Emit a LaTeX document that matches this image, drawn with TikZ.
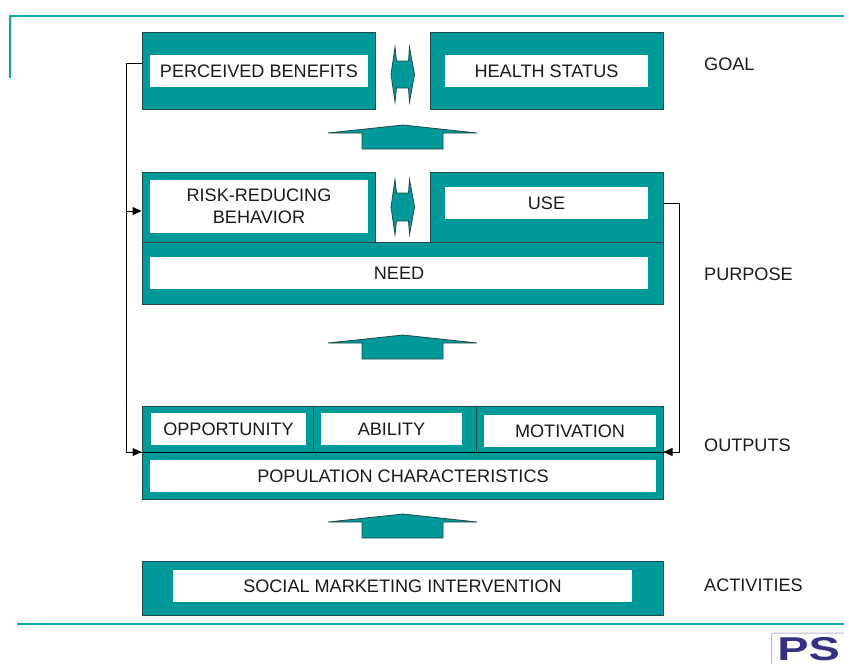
\documentclass[tikz,border=0pt]{standalone}
\usepackage{fontspec}
\usepackage{tikz}
\usepackage{color}
\usetikzlibrary{arrows.meta}
\setmainfont{Liberation Sans}
\definecolor{boxteal}{HTML}{009999}
\definecolor{ruleteal}{HTML}{14A8A4}
\definecolor{edgegray}{HTML}{24494B}
\definecolor{inktext}{HTML}{1A1A1A}
\definecolor{logoblue}{HTML}{35307F}
\definecolor{logoframe}{HTML}{B9B9D0}
\begin{document}
\begin{tikzpicture}[x=1pt,y=1pt]
\tikzstyle{every node}+=[inner sep=0pt]
\tikzstyle{tealbox}=[draw=edgegray,fill=boxteal,line width=1pt]
\tikzstyle{whitebox}=[fill=white,text=inktext,align=center,font=\fontsize{18.1}{22}\selectfont]
\tikzstyle{sidelabel}=[anchor=west,text=inktext,font=\fontsize{18.1}{22}\selectfont]
\tikzstyle{tealshape}=[draw=edgegray,fill=boxteal,line width=0.8pt,line join=miter]
\tikzstyle{wire}=[draw=black,line width=1pt]
\tikzstyle{wirehead}=[wire,-{Triangle[length=9pt,width=8pt]}]
\useasboundingbox (0,0) rectangle (844,-664);
\draw [ruleteal,line width=2pt] (10,-78) -- (10,-16) -- (844,-16);
\draw [ruleteal,line width=2pt] (17,-623.5) -- (844,-623.5);
\draw (258.75,-70.5) node [tealbox,minimum width=233.5pt,minimum height=77pt] (benefitsteal) {};
\draw (259,-71) node [whitebox,minimum width=218pt,minimum height=32pt] (benefits) {PERCEIVED BENEFITS};
\draw (546.5,-70.5) node [tealbox,minimum width=233pt,minimum height=77pt] (healthteal) {};
\draw (546.5,-71) node [whitebox,minimum width=203pt,minimum height=32pt] (health) {HEALTH STATUS};
\draw (258.75,-207) node [tealbox,minimum width=233.5pt,minimum height=70pt] (riskteal) {};
\draw (259,-206.5) node [whitebox,minimum width=218pt,minimum height=53pt] (risk) {RISK-REDUCING\\BEHAVIOR};
\draw (546.5,-207) node [tealbox,minimum width=233pt,minimum height=70pt] (useteal) {};
\draw (546.5,-203) node [whitebox,minimum width=203pt,minimum height=32pt] (use) {USE};
\draw (402.5,-273) node [tealbox,minimum width=521pt,minimum height=62pt] (needteal) {};
\draw (399,-273) node [whitebox,minimum width=498pt,minimum height=32pt] (need) {NEED};
\draw (227.5,-429.5) node [tealbox,minimum width=171pt,minimum height=47pt] (opportunityteal) {};
\draw (228.5,-429) node [whitebox,minimum width=155pt,minimum height=32pt] (opportunity) {OPPORTUNITY};
\draw (394.5,-429.5) node [tealbox,minimum width=163pt,minimum height=47pt] (abilityteal) {};
\draw (391.5,-429) node [whitebox,minimum width=141pt,minimum height=32pt] (ability) {ABILITY};
\draw (569.5,-429.5) node [tealbox,minimum width=187pt,minimum height=47pt] (motivationteal) {};
\draw (570,-431) node [whitebox,minimum width=172pt,minimum height=32pt] (motivation) {MOTIVATION};
\draw (402.5,-476) node [tealbox,minimum width=521pt,minimum height=47pt] (populationteal) {};
\draw (403,-476) node [whitebox,minimum width=506pt,minimum height=32pt] (population) {POPULATION CHARACTERISTICS};
\draw (402.5,-588) node [tealbox,minimum width=521pt,minimum height=54pt] (socialteal) {};
\draw (402.5,-586) node [whitebox,minimum width=459pt,minimum height=32pt] (social) {SOCIAL MARKETING INTERVENTION};
\draw (704,-64) node [sidelabel] (goal) {GOAL};
\draw (704,-274) node [sidelabel] (purpose) {PURPOSE};
\draw (704,-445) node [sidelabel] (outputs) {OUTPUTS};
\draw (704,-585) node [sidelabel] (activities) {ACTIVITIES};
\draw [tealshape] (328,-133) -- (403,-125) -- (477,-133) -- (443,-133) -- (443,-149) -- (362,-149) -- (362,-133) -- cycle;
\draw [tealshape] (328,-343) -- (403,-335) -- (477,-343) -- (443,-343) -- (443,-359) -- (362,-359) -- (362,-343) -- cycle;
\draw [tealshape] (328,-522) -- (403,-514) -- (477,-522) -- (443,-522) -- (443,-538) -- (362,-538) -- (362,-522) -- cycle;
\draw [tealshape] (395,-47) -- (396.5,-61) -- (408.5,-61) -- (409.5,-47) -- (414.5,-74.5) -- (409.5,-102) -- (408.5,-88) -- (396.5,-88) -- (395,-102) -- (391,-74.5) -- cycle;
\draw [tealshape] (395,-179.5) -- (396.5,-193) -- (408.5,-193) -- (409.5,-179.5) -- (414.5,-207) -- (409.5,-234.5) -- (408.5,-221) -- (396.5,-221) -- (395,-234.5) -- (391,-207) -- cycle;
\coordinate (leftbus) at (126,-63);
\coordinate (riskjoin) at (126,-211);
\coordinate (rightbus) at (679,-203);
\draw [wire] (benefitsteal.west |- leftbus) -- (leftbus) |- (populationteal.north west);
\draw [wirehead] (leftbus |- populationteal.north) -- (populationteal.north west);
\draw [wirehead] (riskjoin) -- (riskteal.west |- riskjoin);
\draw [wire] (useteal.east |- rightbus) -- (rightbus) |- (populationteal.north east);
\draw [wirehead] (rightbus |- populationteal.north) -- (populationteal.north east);
\draw [black,line width=1pt] (populationteal.north west) -- (populationteal.north east);
\draw [logoframe,rounded corners=2pt,line width=1pt] (771.5,-664) -- (771.5,-633) -- (844,-633);
\draw (777,-637.5) node [anchor=north west,text=logoblue,font=\fontsize{33}{33}\bfseries\selectfont,xscale=1.42] (logo) {PS};
\end{tikzpicture}
\end{document}
